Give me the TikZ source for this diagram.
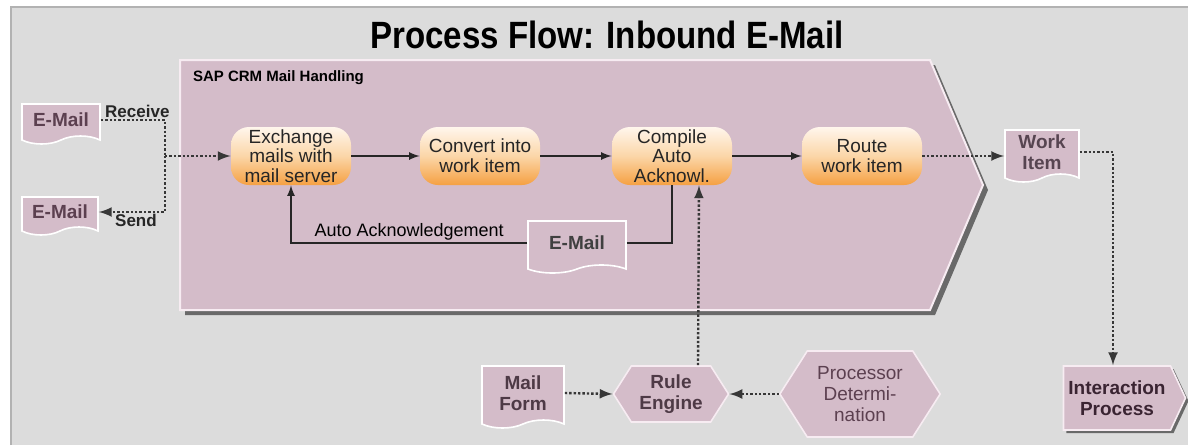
\documentclass[tikz,border=0pt]{standalone}
\usepackage{fontspec}
\setmainfont{Liberation Sans}
\newfontfamily\headfont[FakeStretch=0.87]{Liberation Sans}
\usetikzlibrary{shapes.symbols,positioning,shadows}

\definecolor{panelgray}{RGB}{220,220,220}
\definecolor{mauve}{RGB}{212,188,201}
\definecolor{mauveline}{RGB}{247,236,242}
\definecolor{mauveink}{RGB}{92,64,80}
\definecolor{deepink}{RGB}{58,36,50}
\definecolor{paleorange}{RGB}{255,246,236}
\definecolor{midorange}{RGB}{251,214,168}
\definecolor{deeporange}{RGB}{245,160,66}
\definecolor{shadowgray}{RGB}{105,105,105}
\definecolor{dotgray}{RGB}{55,55,55}

\tikzset{
  doc/.style={shape=tape, tape bend top=none, tape bend height=4pt,
    fill=mauve, draw=white, line width=0.8pt, align=center, inner sep=1pt,
    font=\fontsize{9.5}{10.5}\selectfont\bfseries, text=mauveink},
  stepbox/.style={rounded corners=9pt, minimum width=60pt, minimum height=29pt,
    top color=paleorange, bottom color=deeporange, middle color=midorange,
    align=center, inner sep=1pt, font=\fontsize{9.5}{9.8}\selectfont, text=black!85},
  hexbox/.style={shape=signal, signal to=west and east, signal pointer angle=115,
    fill=mauve, draw=mauveline, line width=0.8pt, align=center, inner sep=1pt,
    font=\fontsize{9.5}{10.5}\selectfont},
  flow/.style={draw=black!85, line width=0.8pt},
  dotflow/.style={draw=dotgray, line width=1.2pt, densely dotted},
  tag/.style={font=\fontsize{8.5}{9}\selectfont\bfseries, text=black!85, inner sep=1pt},
}

\begin{document}
\begin{tikzpicture}[x=0.5pt,y=-0.5pt]
  \useasboundingbox (0,0) rectangle (1188,445);

  % panel
  \fill[white] (0,0) rectangle (1188,445);
  \fill[panelgray] (11,7) rectangle (1188,445);
  \draw[gray!60, line width=1pt] (11,445) -- (11,7) -- (1188,7);

  % title
  \node[font=\headfont\bfseries\fontsize{19}{22}\selectfont] (title) at (607,35)
    {Process Flow: Inbound E-Mail};

  %---------------------
  % mail handling chevron
  %---------------------
  \fill[shadowgray] (185,65) -- (935,65) -- (988,190) -- (935,315) -- (185,315) -- cycle;
  \filldraw[fill=mauve, draw=mauveline, line width=1pt]
    (180,60) -- (930,60) -- (983,185) -- (930,310) -- (180,310) -- cycle;
  \node[anchor=west, font=\fontsize{7.5}{8}\selectfont\bfseries] (crm) at (186,78)
    {SAP CRM Mail Handling};

  % steps
  \node[stepbox] (exchange) at (291,156) {Exchange\\mails with\\mail server};
  \node[stepbox] (convert) at (480,156) {Convert into\\work item};
  \node[stepbox] (compile) at (672,156) {Compile\\Auto\\Acknowl.};
  \node[stepbox] (route) at (862,156) {Route\\work item};

  \draw[flow,-latex] (exchange) -- (convert);
  \draw[flow,-latex] (convert) -- (compile);
  \draw[flow,-latex] (compile) -- (route);

  % acknowledgement mail
  \node[doc, minimum width=49pt, minimum height=26pt, text=black!75] (ackmail) at (577,243) {E-Mail};
  \draw[flow,-latex] (ackmail.west) -| node[pos=0.25, above, inner sep=1pt,
    font=\fontsize{9}{10}\selectfont] (acklbl) {Auto Acknowledgement} (exchange.south);
  \draw[flow] (ackmail.east) -| (compile.south);

  %---------------------
  % inbound / outbound
  %---------------------
  \node[doc, minimum width=39pt, minimum height=20pt] (mailin) at (61,120) {E-Mail};
  \node[doc, minimum width=38pt, minimum height=19pt] (mailout) at (60,212) {E-Mail};
  \coordinate (split) at (165,156);

  \draw[dotflow] (mailin.east) -| (split);
  \draw[dotflow,-latex] (split) -- (exchange.west);
  \draw[dotflow,-latex] (split) |- (mailout.east);
  \node[tag, above right=0pt and 1pt] (rcv) at (mailin.east) {Receive};
  \node[tag, below right=0pt and 7pt] (snd) at (mailout.east) {Send};

  %---------------------
  % work item
  %---------------------
  \node[doc, minimum width=37pt, minimum height=26pt, text=deepink!85] (workitem) at (1042,152) {Work\\Item};
  \node[hexbox, signal to=east, signal pointer angle=130, minimum height=32pt,
    inner xsep=2.5pt, font=\fontsize{9.5}{10.5}\selectfont\bfseries, text=deepink,
    drop shadow={shadow xshift=1.5pt, shadow yshift=-1.5pt, fill=shadowgray, opacity=1}]
    (interaction) at (1117,398) {Interaction\\Process};

  \draw[dotflow,-latex] (route) -- (workitem.west |- route);
  \draw[dotflow,-latex] (workitem.east) -| ([xshift=-2pt]interaction.north);

  %---------------------
  % rule engine
  %---------------------
  \node[doc, minimum width=41pt, minimum height=31pt, text=deepink!90] (mailform) at (523,393) {Mail\\Form};
  \node[hexbox, minimum height=28pt, inner xsep=4pt, font=\fontsize{9.5}{10.5}\selectfont\bfseries,
    text=deepink!90] (rule) at (671,394) {Rule\\Engine};
  \node[hexbox, minimum height=43pt, inner xsep=5pt, text=mauveink]
    (proc) at (860,394) {Processor\\Determi-\\nation};

  \draw[dotflow,-latex] (mailform.east) -- (rule.west);
  \draw[dotflow,-latex] (proc.west) -- (rule.east);
  \draw[dotflow,-latex] ([xshift=13.5pt]rule.north) -- ([xshift=13.5pt]compile.south);

\end{tikzpicture}
\end{document}
